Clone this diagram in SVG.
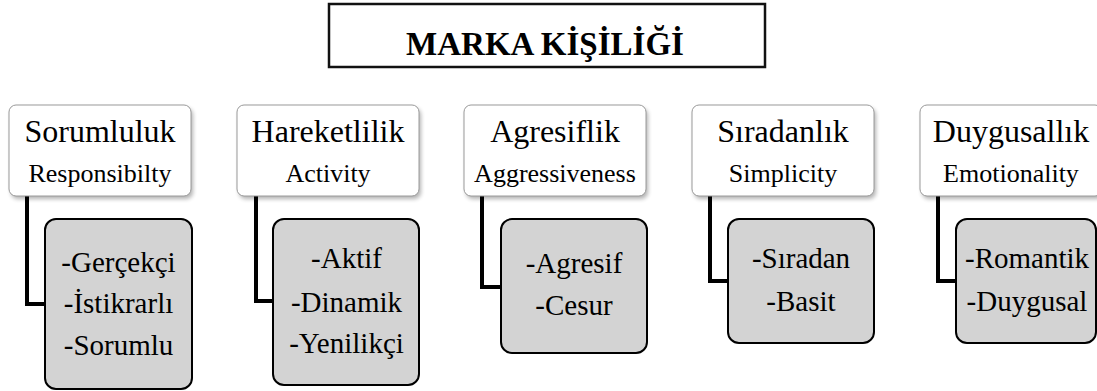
<svg xmlns="http://www.w3.org/2000/svg" width="1097" height="391" viewBox="0 0 1097 391">
  <defs>
    <style>
      .title, .head-main, .head-sub, .item { font-family: "Liberation Serif", "Times New Roman", serif; fill: #000; text-anchor: middle; }
      .title-box { fill: #fff; stroke: #111; stroke-width: 2.5; }
      .title { font-size: 33px; font-weight: bold; }
      .head { fill: #fff; stroke: #9a9a9a; stroke-width: 1; }
      .head-main { font-size: 32px; }
      .head-sub { font-size: 26px; }
      .item-box { fill: #d3d3d3; stroke: #000; stroke-width: 2; }
      .item { font-size: 29px; }
      .link { fill: none; stroke: #000; stroke-width: 4; }
      .shade { fill: #000; opacity: 0.3; }
    </style>
    <filter id="soft" x="-10%" y="-10%" width="130%" height="140%">
      <feGaussianBlur stdDeviation="2"/>
    </filter>
  </defs>
  <rect width="1097" height="391" fill="#fff"/>

  <g id="title">
    <rect class="title-box" x="329" y="4" width="436" height="63"/>
    <text class="title" x="545" y="55">MARKA KİŞİLİĞİ</text>
  </g>

  <g id="connectors">
    <path class="link" d="M27,196 V304 H46"/>
    <path class="link" d="M256,196 V301 H274"/>
    <path class="link" d="M482,196 V287 H502"/>
    <path class="link" d="M710,196 V281 H729"/>
    <path class="link" d="M938,196 V281 H957"/>
  </g>

  <g id="sorumluluk">
    <rect class="shade" x="11" y="108" width="182" height="91" rx="7" filter="url(#soft)"/>
    <rect class="head" x="9" y="105" width="182" height="91" rx="7"/>
    <text class="head-main" x="100" y="142">Sorumluluk</text>
    <text class="head-sub" x="100" y="182">Responsibilty</text>
  </g>
  <g id="sorumluluk-items">
    <rect class="item-box" x="45" y="219" width="147" height="170" rx="11"/>
    <text class="item" x="118.5" y="272">-Gerçekçi</text>
    <text class="item" x="118.5" y="313">-İstikrarlı</text>
    <text class="item" x="118.5" y="355">-Sorumlu</text>
  </g>

  <g id="hareketlilik">
    <rect class="shade" x="239" y="108" width="182" height="91" rx="7" filter="url(#soft)"/>
    <rect class="head" x="237" y="105" width="182" height="91" rx="7"/>
    <text class="head-main" x="328" y="142">Hareketlilik</text>
    <text class="head-sub" x="328" y="182">Activity</text>
  </g>
  <g id="hareketlilik-items">
    <rect class="item-box" x="273" y="219" width="146" height="166" rx="11"/>
    <text class="item" x="346.5" y="268">-Aktif</text>
    <text class="item" x="346.5" y="312">-Dinamik</text>
    <text class="item" x="346.5" y="353">-Yenilikçi</text>
  </g>

  <g id="agresiflik">
    <rect class="shade" x="466" y="108" width="182" height="91" rx="7" filter="url(#soft)"/>
    <rect class="head" x="464" y="105" width="182" height="91" rx="7"/>
    <text class="head-main" x="555" y="142">Agresiflik</text>
    <text class="head-sub" x="555" y="182">Aggressiveness</text>
  </g>
  <g id="agresiflik-items">
    <rect class="item-box" x="501" y="219" width="146" height="134" rx="11"/>
    <text class="item" x="574" y="273">-Agresif</text>
    <text class="item" x="574" y="315">-Cesur</text>
  </g>

  <g id="siradanlik">
    <rect class="shade" x="694" y="108" width="182" height="91" rx="7" filter="url(#soft)"/>
    <rect class="head" x="692" y="105" width="182" height="91" rx="7"/>
    <text class="head-main" x="783" y="142">Sıradanlık</text>
    <text class="head-sub" x="783" y="182">Simplicity</text>
  </g>
  <g id="siradanlik-items">
    <rect class="item-box" x="728" y="219" width="146" height="124" rx="11"/>
    <text class="item" x="801" y="268">-Sıradan</text>
    <text class="item" x="801" y="311">-Basit</text>
  </g>

  <g id="duygusallik">
    <rect class="shade" x="922" y="108" width="182" height="91" rx="7" filter="url(#soft)"/>
    <rect class="head" x="920" y="105" width="182" height="91" rx="7"/>
    <text class="head-main" x="1011" y="142">Duygusallık</text>
    <text class="head-sub" x="1011" y="182">Emotionality</text>
  </g>
  <g id="duygusallik-items">
    <rect class="item-box" x="956" y="219" width="140" height="124" rx="11"/>
    <text class="item" x="1027" y="268">-Romantik</text>
    <text class="item" x="1027" y="311">-Duygusal</text>
  </g>
</svg>
